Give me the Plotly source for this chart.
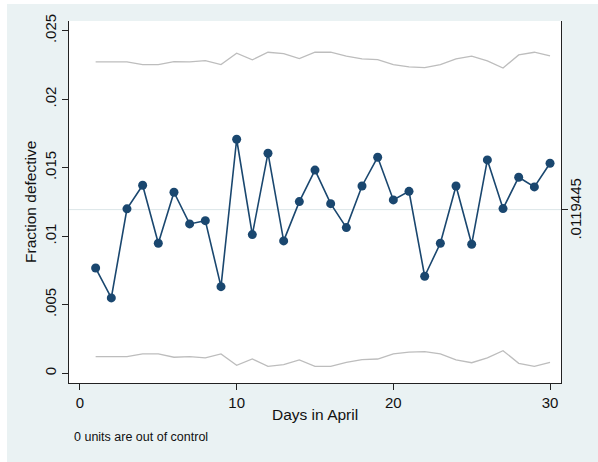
import plotly.graph_objects as go

days = list(range(1, 31))
fraction_defective = [0.00768, 0.00550, 0.01200, 0.01372, 0.00949, 0.01321, 0.01090, 0.01114,
                      0.00632, 0.01708, 0.01012, 0.01606, 0.00966, 0.01253, 0.01483, 0.01238,
                      0.01063, 0.01367, 0.01577, 0.01265, 0.01328, 0.00708, 0.00949, 0.01367,
                      0.00942, 0.01557, 0.01202, 0.01431, 0.01360, 0.01533]
upper_limit = [0.02272, 0.02272, 0.02272, 0.02253, 0.02253, 0.02275, 0.02272, 0.02282,
               0.02253, 0.02336, 0.02287, 0.02343, 0.02333, 0.02297, 0.02343, 0.02343,
               0.02314, 0.02294, 0.02289, 0.02253, 0.02236, 0.02231, 0.02253, 0.02294,
               0.02314, 0.02280, 0.02228, 0.02323, 0.02343, 0.02316]
lower_limit = [0.00121, 0.00121, 0.00121, 0.00141, 0.00141, 0.00117, 0.00121, 0.00112,
               0.00141, 0.00058, 0.00104, 0.00051, 0.00063, 0.00097, 0.00051, 0.00051,
               0.00080, 0.00099, 0.00104, 0.00141, 0.00155, 0.00158, 0.00141, 0.00097,
               0.00077, 0.00112, 0.00165, 0.00073, 0.00051, 0.00080]
center_line = 0.0119445
center_label = ".0119445"
y_tick_vals = [0, 0.005, 0.01, 0.015, 0.02, 0.025]
y_tick_text = ["0", ".005", ".01", ".015", ".02", ".025"]
x_tick_vals = [0, 10, 20, 30]
x_tick_text = ["0", "10", "20", "30"]

BG = "#EAF2F3"
NAVY = "#1A476F"
GREY = "#BDBDBD"
AXC = "#222222"
FONT = "Liberation Sans, Arial, sans-serif"

W, H = 598, 462
ML, MR, MT, MB = 69, 37, 21, 79
PW, PH = W - ML - MR, H - MT - MB

YR = [-0.00071, 0.02571]
XR = [-0.7, 30.7]

fig = go.Figure()
fig.add_trace(go.Scatter(x=days, y=upper_limit, mode="lines",
                         line=dict(color=GREY, width=1.3), hoverinfo="skip", showlegend=False))
fig.add_trace(go.Scatter(x=days, y=lower_limit, mode="lines",
                         line=dict(color=GREY, width=1.3), hoverinfo="skip", showlegend=False))
fig.add_trace(go.Scatter(x=days, y=fraction_defective, mode="lines+markers",
                         line=dict(color=NAVY, width=1.6),
                         marker=dict(color=NAVY, size=9), showlegend=False))
# invisible trace for right axis
fig.add_trace(go.Scatter(x=[days[0]], y=[center_line], mode="markers", yaxis="y2",
                         marker=dict(opacity=0), hoverinfo="skip", showlegend=False))

fig.add_hline(y=center_line, line=dict(color="#DCE6E8", width=1), layer="below")

shapes = [
    dict(type="rect", xref="paper", yref="paper",
         x0=-ML / PW, x1=(W - ML) / PW, y0=1 + (MT - 4) / PH, y1=1 + MT / PH,
         fillcolor="white", line=dict(width=0), layer="below"),
    dict(type="rect", xref="paper", yref="paper",
         x0=-ML / PW, x1=-(ML - 7) / PW, y0=-MB / PH, y1=1 + MT / PH,
         fillcolor="white", line=dict(width=0), layer="below"),
]
for s in shapes:
    fig.add_shape(**s)

axis_common = dict(showgrid=False, zeroline=False, showline=True, linecolor=AXC, linewidth=1,
                   ticks="outside", ticklen=6, tickcolor=AXC, tickwidth=1,
                   tickfont=dict(family=FONT, size=15, color="#111"))

fig.update_layout(
    width=W, height=H,
    margin=dict(l=ML, r=MR, t=MT, b=MB, pad=0),
    paper_bgcolor=BG, plot_bgcolor="white",
    xaxis=dict(range=XR, tickmode="array", tickvals=x_tick_vals, ticktext=x_tick_text, **axis_common),
    yaxis=dict(range=YR, tickmode="array", tickvals=y_tick_vals, ticktext=y_tick_text,
               tickangle=-90, **axis_common),
    yaxis2=dict(range=YR, overlaying="y", side="right", tickmode="array",
                tickvals=[center_line], ticktext=[""], **axis_common),
    annotations=[
        dict(text=center_label, xref="paper", yref="y", x=1 + 15 / PW, y=center_line,
             xanchor="center", yanchor="middle", textangle=-90, showarrow=False,
             font=dict(family=FONT, size=15, color="#111")),
        dict(text="Days in April", xref="paper", yref="paper", x=0.5, y=-31 / PH,
             xanchor="center", yanchor="middle", showarrow=False,
             font=dict(family=FONT, size=15.5, color="#111")),
        dict(text="Fraction defective", xref="paper", yref="paper", x=-39 / PW, y=0.5,
             xanchor="center", yanchor="middle", textangle=-90, showarrow=False,
             font=dict(family=FONT, size=15.5, color="#111")),
        dict(text="0 units are out of control", xref="paper", yref="paper", x=3 / PW,
             y=-54 / PH, xanchor="left", yanchor="middle", showarrow=False,
             font=dict(family=FONT, size=12.5, color="#111")),
    ],
)

fig.write_html("out.html",
               config={"displayModeBar": False},
               post_script="document.body.style.margin='0';document.body.style.padding='0';"
                           "document.body.style.overflow='hidden';"
                           "document.documentElement.style.overflow='hidden';")
